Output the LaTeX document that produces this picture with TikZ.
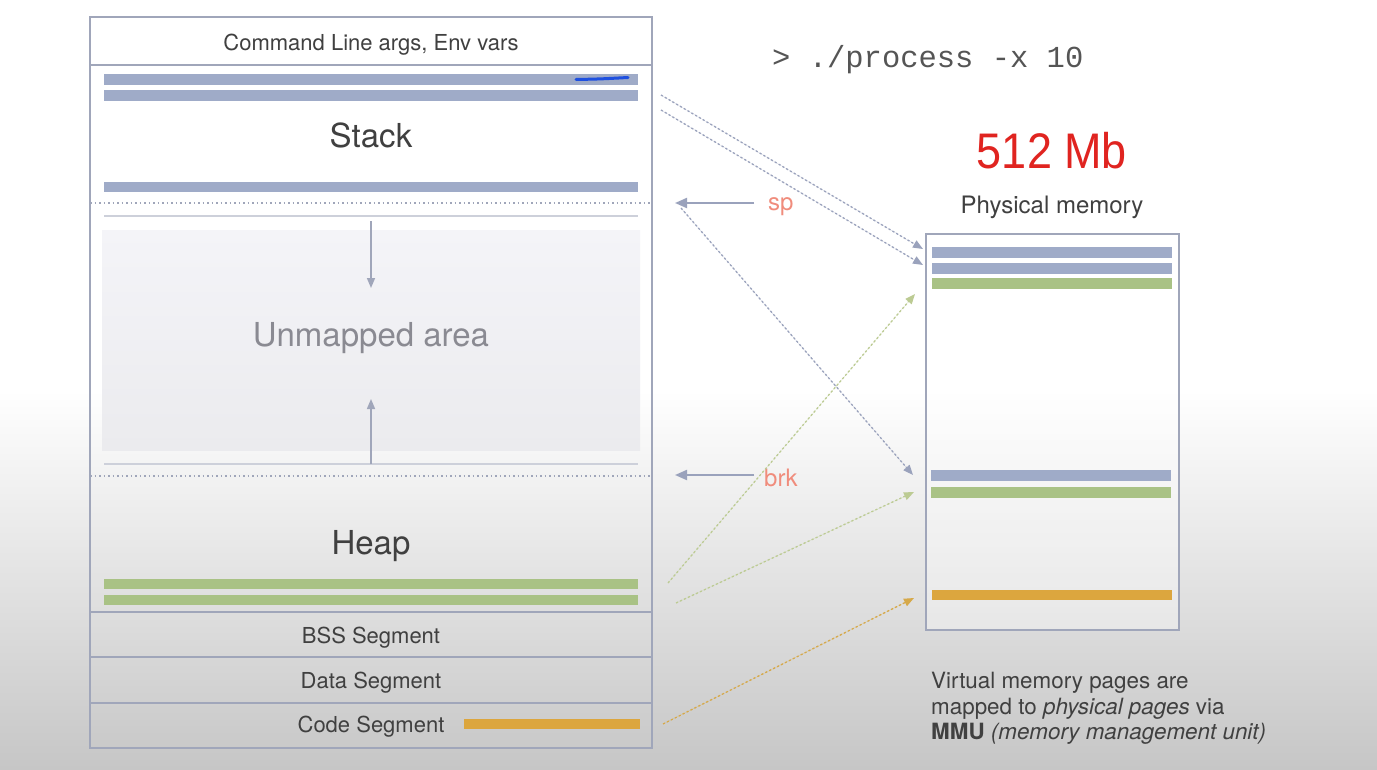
\documentclass[tikz,border=0pt]{standalone}
\usepackage{fontspec}
\setmainfont{TeX Gyre Heros}
\setmonofont{Liberation Mono}
\newfontfamily\handfont{Liberation Sans}
\usetikzlibrary{arrows.meta}
\definecolor{frame}{HTML}{A0A6BA}
\definecolor{barblue}{HTML}{9FABC8}
\definecolor{bargreen}{HTML}{A9C285}
\definecolor{barorange}{HTML}{DCA63E}
\definecolor{txt}{HTML}{404040}
\definecolor{monotxt}{HTML}{555555}
\definecolor{ptr}{HTML}{F08C7C}
\definecolor{hand}{HTML}{E02420}
\definecolor{greenarr}{HTML}{BCCB93}
\definecolor{orangearr}{HTML}{D6A94A}
\definecolor{bluearr}{HTML}{9AA2BC}
\definecolor{scrib}{HTML}{1E50E0}
\definecolor{bgbot}{HTML}{C6C6C6}
\definecolor{thin}{HTML}{CDD0DA}
\definecolor{unmap}{HTML}{F4F4F8}
\definecolor{unmapbot}{HTML}{EBEBEE}
\definecolor{graytxt}{HTML}{8A8A92}
\begin{document}
\begin{tikzpicture}[x=1pt,y=-1pt,
  seglabel/.style={font=\fontsize{22}{26}\selectfont, text=txt, inner sep=0},
  biglabel/.style={font=\fontsize{33}{40}\selectfont, text=txt, inner sep=0},
  bar/.style={inner sep=0, minimum height=10.5pt, draw=none},
  vbar/.style={bar, minimum width=534pt},
  pbar/.style={bar, minimum width=240pt},
  sepline/.style={draw=frame, line width=1.4pt},
  dotsep/.style={draw=frame, line width=1.5pt, dash pattern=on 1.5pt off 3pt},
  growarrow/.style={draw=frame, line width=1.5pt, -{Triangle[length=10pt,width=8pt]}},
  ptrarrow/.style={draw=bluearr, line width=2pt, -{Triangle[length=12pt,width=10pt]}},
  ptrlabel/.style={font=\fontsize{24}{28}\selectfont, text=ptr, inner sep=0},
  mapping/.style={line width=1.3pt, dash pattern=on 2.2pt off 2.2pt, -{Triangle[length=10pt,width=8pt]}}
]
\useasboundingbox (0,0) rectangle (1377,769);
% background
\fill[white] (0,0) rectangle (1377,391);
\shade[top color=white, bottom color=bgbot] (0,390) rectangle (1377,769);

% ---------- virtual memory box ----------
\shade[top color=unmap, bottom color=unmapbot] (102,230) rectangle (640,450);
\draw[sepline] (90,17) rectangle (652,748);
\draw[sepline] (90,65) -- (652,65);
\draw[sepline] (90,612) -- (652,612);
\draw[sepline] (90,657) -- (652,657);
\draw[sepline] (90,703) -- (652,703);
\draw[dotsep] (90,203) -- (652,203);
\draw[dotsep] (90,476) -- (652,476);
\draw[draw=thin, line width=1.5pt] (104,216) -- (638,216);
\draw[draw=thin, line width=1.5pt] (104,464) -- (638,464);

\node[seglabel] (cmd) at (371,44.5) {Command Line args, Env vars};
\node[vbar, fill=barblue] (s1) at (371,79.5) {};
\node[vbar, fill=barblue] (s2) at (371,95.5) {};
\node[vbar, fill=barblue] (s3) at (371,187) {};
\draw[scrib, line width=3pt, line cap=round] (576,79.5) .. controls (600,79) .. (628,77.5);
\node[biglabel] (stack) at (371,135.5) {Stack};

\coordinate (stacktop) at (371,221);
\coordinate (stackgrow) at (371,288);
\coordinate (heaptop) at (371,464);
\coordinate (heapgrow) at (371,399);
\draw[growarrow] (stacktop) -- (stackgrow);
\draw[growarrow] (heaptop) -- (heapgrow);
\node[biglabel, text=graytxt] (unmapped) at (371,338) {Unmapped area};

\node[biglabel] (heap) at (371,546.5) {Heap};
\node[vbar, fill=bargreen] (h1) at (371,584) {};
\node[vbar, fill=bargreen] (h2) at (371,600) {};

\node[seglabel] (bss) at (371,638) {BSS Segment};
\node[seglabel] (data) at (371,683) {Data Segment};
\node[seglabel] (code) at (371,727) {Code Segment};
\node[bar, fill=barorange, minimum width=176pt] (c1) at (552,724) {};

% ---------- pointers ----------
\node[ptrlabel, anchor=west] (sp) at (768,207) {sp};
\node[ptrlabel, anchor=west] (brk) at (764,478) {brk};
\coordinate (sptip) at (675,203);
\coordinate (brktip) at (675,475);
\coordinate (spstart) at (754,203);
\coordinate (brkstart) at (754,475);
\draw[ptrarrow] (spstart) -- (sptip);
\draw[ptrarrow] (brkstart) -- (brktip);

% ---------- command ----------
\node[font=\ttfamily\fontsize{30.5}{34}\selectfont, text=monotxt, inner sep=0, anchor=west] (prompt) at (772,60) {> ./process -x 10};

% ---------- physical memory ----------
\node[font=\handfont\fontsize{50}{56}\selectfont, text=hand, inner sep=0, xscale=0.9] (size) at (1052,151) {512 Mb};
\node[font=\fontsize{24}{28}\selectfont, text=txt, inner sep=0] (phys) at (1052,207) {Physical memory};
\draw[sepline, fill=white, fill opacity=0.35] (926,234) rectangle (1179,630);
\node[pbar, fill=barblue] (p1) at (1052,252.5) {};
\node[pbar, fill=barblue] (p2) at (1052,268.5) {};
\node[pbar, fill=bargreen] (p3) at (1052,283.5) {};
\node[pbar, fill=barblue] (p4) at (1051,475.5) {};
\node[pbar, fill=bargreen] (p5) at (1051,492.5) {};
\node[pbar, fill=barorange] (p6) at (1052,595) {};

% ---------- mappings ----------
\coordinate (m1s) at (661,95);
\coordinate (m2s) at (661,110);
\coordinate (m3s) at (681,208);
\coordinate (m4s) at (668,583);
\coordinate (m5s) at (676,603);
\coordinate (m6s) at (663,724);
\coordinate (m1e) at (923,249);
\coordinate (m2e) at (923,265);
\coordinate (m3e) at (913,475);
\coordinate (m4e) at (915,294);
\coordinate (m5e) at (914,492);
\coordinate (m6e) at (914,598);
\draw[mapping, draw=bluearr, fill=bluearr] (m1s) -- (m1e);
\draw[mapping, draw=bluearr, fill=bluearr] (m2s) -- (m2e);
\draw[mapping, draw=bluearr, fill=bluearr] (m3s) -- (m3e);
\draw[mapping, draw=greenarr, fill=greenarr] (m4s) -- (m4e);
\draw[mapping, draw=greenarr, fill=greenarr] (m5s) -- (m5e);
\draw[mapping, draw=orangearr, fill=orangearr] (m6s) -- (m6e);

% ---------- note ----------
\node[font=\fontsize{22.4}{25.6}\selectfont, text=txt, inner sep=0, anchor=north west, align=left] (note) at (931,672)
  {Virtual memory pages are\\ mapped to \textit{physical pages} via\\ \textbf{MMU} \textit{(memory management unit)}};
\end{tikzpicture}
\end{document}
